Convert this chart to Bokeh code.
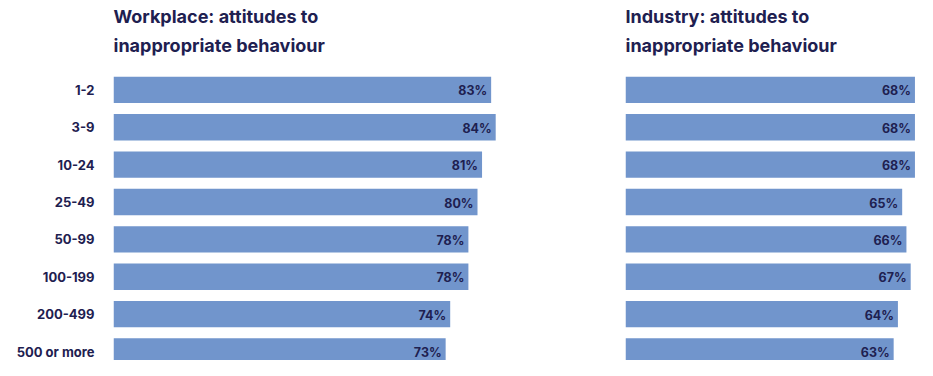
from bokeh.plotting import figure
from bokeh.layouts import row
from bokeh.models import Range1d, FixedTicker, Title, ColumnDataSource
from bokeh.core.properties import value
from bokeh.embed import file_html
from bokeh.resources import INLINE

categories = ["1-2", "3-9", "10-24", "25-49", "50-99", "100-199", "200-499", "500 or more"]
workplace = [83, 84, 81, 80, 78, 78, 74, 73]
industry = [68, 68, 68, 65, 66, 67, 64, 63]
titles = ["Workplace: attitudes to\ninappropriate behaviour",
          "Industry: attitudes to\ninappropriate behaviour"]

BAR = "#7195cc"
NAVY = "#1e2050"
FONT = "Inter"

def panel(vals, title, width, border_left, x_end, show_labels):
    idx = list(range(len(categories)))
    src = ColumnDataSource(dict(y=idx, v=vals, lab=[f"{v}%" for v in vals]))
    p = figure(width=width, height=360, output_backend="svg", toolbar_location=None,
               x_range=Range1d(0, x_end), y_range=Range1d(len(categories) - 1 + 0.24, -0.813),
               min_border_left=border_left, min_border_right=0, min_border_top=58,
               min_border_bottom=0)
    p.hbar(y="y", right="v", left=0, height=0.707, source=src, fill_color=BAR, line_color=None)
    p.text(x="v", y="y", text="lab", source=src, text_align="right", text_baseline="middle",
           x_offset=-4, y_offset=1, text_font=value(FONT), text_font_style="bold",
           text_font_size="12.5px", text_color=NAVY)
    p.xaxis.visible = False
    p.xgrid.visible = False
    p.ygrid.visible = False
    p.outline_line_color = None
    if show_labels:
        ax = p.yaxis[0]
        ax.ticker = FixedTicker(ticks=idx)
        ax.major_label_overrides = {i: c for i, c in enumerate(categories)}
        ax.axis_line_color = None
        ax.major_tick_line_color = None
        ax.minor_tick_line_color = None
        ax.major_tick_out = 0
        ax.major_tick_in = 0
        ax.major_label_standoff = 19
        ax.major_label_text_font = FONT
        ax.major_label_text_font_style = "bold"
        ax.major_label_text_font_size = "13px"
        ax.major_label_text_color = NAVY
    else:
        p.yaxis.visible = False
    p.title = Title(text=title, align="left", text_font=FONT, text_font_style="bold",
                    text_font_size="18px", text_color=NAVY, text_line_height=1.4, standoff=7)
    return p

p1 = panel(workplace, titles[0], 528, 113, 415 / 4.55, True)
p2 = panel(industry, titles[1], 389, 97, 68.6, False)
layout = row(p1, p2, spacing=0)

open("out.html", "w").write(file_html(layout, INLINE))
